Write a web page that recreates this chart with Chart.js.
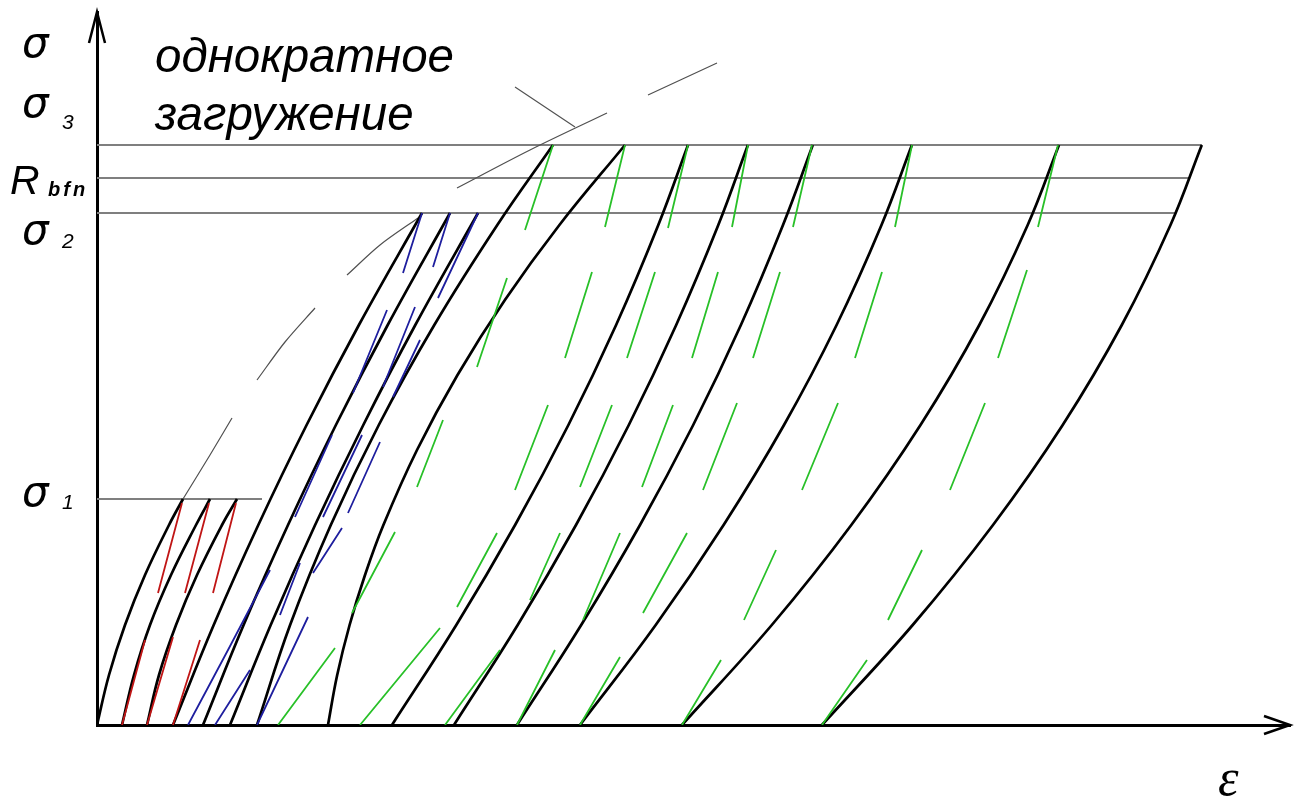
<!DOCTYPE html>
<html>
<head>
<meta charset="utf-8">
<script src="https://cdn.jsdelivr.net/npm/chart.js@4.4.1/dist/chart.umd.min.js"></script>
<style>
    body { margin: 0; background: #fff; }
    #wrap { position: relative; width: 1295px; height: 804px; }
    .lbl {
        position: absolute;
        font-family: "Liberation Sans", Arial, sans-serif;
        font-style: italic;
        line-height: 1;
        color: #000;
        white-space: nowrap;
    }
    .sig { font-family: "DejaVu Sans", sans-serif; font-size: 42px; }
</style>
</head>
<body>
<div id="wrap">
    <canvas id="chart" width="1295" height="804"></canvas>
    <div class="lbl sig" style="left:22px; top:22px;">σ</div>
    <div class="lbl sig" style="left:22px; top:82px;">σ</div>
    <div class="lbl" style="left:62px; top:111px; font-size:21px;">3</div>
    <div class="lbl" style="left:10px; top:160px; font-size:41px;">R</div>
    <div class="lbl" style="left:48px; top:179px; font-size:20px; font-weight:bold; letter-spacing:3px;">bfn</div>
    <div class="lbl sig" style="left:22px; top:209px;">σ</div>
    <div class="lbl" style="left:62px; top:230px; font-size:21px;">2</div>
    <div class="lbl sig" style="left:22px; top:471px;">σ</div>
    <div class="lbl" style="left:62px; top:491px; font-size:21px;">1</div>
    <div class="lbl" style="left:155px; top:32px; font-size:47.5px;">однократное</div>
    <div class="lbl" style="left:155px; top:90px; font-size:47.5px;">загружение</div>
    <div class="lbl" style="left:1218px; top:752px; font-size:52px; font-family:'Liberation Serif', serif;">ε</div>
</div>
<script>
// units: ε to the right, σ upwards (same arbitrary units on both axes)
const GAP = null;

// stress levels
const levelNames = ['σ1', 'σ2', 'Rbfn', 'σ3'];
const levelValues = [226, 512, 547, 580];
const levelEnds = [165, 1079, 1093, 1105];

// loading curves, cycles up to σ1
const load1 = [[0, 0], [12, 50], [28, 100], [48, 150], [72, 200], [86, 226]];
const load2 = [[25, 0], [37, 50], [53, 100], [74, 150], [99, 200], [113, 226]];
const load3 = [[50, 0], [62, 50], [79, 100], [100, 150], [125, 200], [140, 226]];
// cycles up to σ2
const load4 = [[76, 0], [116.7, 100], [161.3, 200], [209.6, 300], [261.9, 400], [325, 512]];
const load5 = [[106, 0], [146.6, 100], [191, 200], [238.9, 300], [290.7, 400], [353, 512]];
const load6 = [[133, 0], [173.7, 100], [218.1, 200], [266.3, 300], [318.3, 400], [381, 512]];
// cycles up to σ3
const load7 = [[160, 0], [193.1, 100], [233.8, 200], [281.8, 300], [337.3, 400], [400.3, 500], [456, 580]];
const load8 = [[231, 0], [240.2, 50], [252.6, 100], [268, 150], [286.4, 200], [320, 275], [360.5, 350], [407.9, 425], [462.4, 500], [528, 580]];
const load9 = [[295, 0], [359.3, 100], [418.1, 200], [471.4, 300], [519.1, 400], [561.3, 500], [591, 580]];
const load10 = [[357, 0], [420.7, 100], [479, 200], [531.8, 300], [579.2, 400], [621.3, 500], [650.9, 580]];
const load11 = [[420, 0], [484.2, 100], [543, 200], [596.2, 300], [643.9, 400], [686, 500], [715.8, 580]];
const load12 = [[483, 0], [558.7, 100], [626.6, 200], [687, 300], [739.6, 400], [784.5, 500], [814.9, 580]];
const load13 = [[585, 0], [674.8, 100], [754.3, 200], [823.5, 300], [882.3, 400], [930.7, 500], [962, 580]];
const load14 = [[725, 0], [815.7, 100], [896, 200], [965.7, 300], [1024.8, 400], [1073.5, 500], [1104.8, 580]];

// unloading from σ1 (red)
const unloadR1 = [[85, 222], [61, 132], GAP, [48, 85], [25, 0]];
const unloadR2 = [[112, 222], [88, 132], GAP, [76, 88], [50, 0]];
const unloadR3 = [[139, 222], [116, 132], GAP, [103, 85], [76, 0]];

// unloading from σ2 (blue)
const unloadB1 = [[325, 512], [306, 452], GAP, [290, 415], [256, 332], GAP, [235, 290], [198, 208], GAP, [173, 155], [131, 75], [91, 0]];
const unloadB2 = [[353, 512], [336, 458], GAP, [318, 418], [286, 338], GAP, [265, 290], [226, 208], GAP, [203, 162], [183, 110], GAP, [153, 55], [118, 0]];
const unloadB3 = [[381, 512], [341, 427], GAP, [323, 385], [296, 328], GAP, [283, 283], [251, 212], GAP, [245, 197], [216, 152], GAP, [211, 108], [160, 0]];

// unloading from σ3 (green)
const unloadG1 = [[456, 580], [428, 495], GAP, [410, 447], [380, 358], GAP, [346, 305], [320, 238], GAP, [298, 193], [255, 112], GAP, [238, 77], [181, 0]];
const unloadG2 = [[528, 580], [508, 498], GAP, [495, 453], [468, 367], GAP, [451, 320], [418, 235], GAP, [400, 192], [360, 118], GAP, [343, 97], [263, 0]];
const unloadG3 = [[591, 580], [571, 497], GAP, [558, 453], [530, 367], GAP, [515, 320], [483, 238], GAP, [463, 192], [433, 125], GAP, [403, 75], [348, 0]];
const unloadG4 = [[651, 580], [635, 498], GAP, [621, 453], [595, 367], GAP, [576, 320], [545, 238], GAP, [523, 192], [486, 105], GAP, [458, 75], [420, 0]];
const unloadG5 = [[715, 580], [696, 498], GAP, [683, 453], [656, 367], GAP, [640, 322], [606, 235], GAP, [590, 192], [546, 112], GAP, [523, 68], [483, 0]];
const unloadG6 = [[815, 580], [798, 498], GAP, [785, 453], [758, 367], GAP, [741, 322], [705, 235], GAP, [679, 175], [647, 105], GAP, [624, 65], [585, 0]];
const unloadG7 = [[961, 580], [941, 498], GAP, [930, 455], [901, 367], GAP, [888, 322], [853, 235], GAP, [825, 175], [791, 105], GAP, [770, 65], [725, 0]];

// single loading envelope ("однократное загружение") and its label leader
const envelope = [[86, 226], [113, 270], [135, 307], GAP, [160, 345], [188, 383], [218, 417], GAP, [250, 450], [283, 480], [321, 507], GAP, [360, 537], [433, 575], [510, 612], GAP, [551, 630], [620, 662]];
const leader = [[418, 638], [478, 598]];

const toPoints = arr => arr.map(p => p ? { x: p[0], y: p[1] } : { x: null, y: null });

function lineSet(points, color, width, tension, order) {
    return {
        data: toPoints(points),
        borderColor: color,
        borderWidth: width,
        pointRadius: 0,
        showLine: true,
        fill: false,
        tension: tension,
        spanGaps: false,
        order: order
    };
}

const datasets = [];

levelValues.forEach((v, i) => {
    const ds = lineSet([[0, v], [levelEnds[i], v]], '#7f7f7f', 1.8, 0, 5);
    ds.label = levelNames[i];
    datasets.push(ds);
});

datasets.push(lineSet(envelope, '#505050', 1.2, 0.3, 4));
datasets.push(lineSet(leader, '#505050', 1.2, 0, 4));

[load1, load2, load3, load4, load5, load6, load7, load8, load9, load10, load11, load12, load13, load14]
    .forEach(c => datasets.push(lineSet(c, '#000000', 2.7, 0.4, 3)));

[unloadR1, unloadR2, unloadR3].forEach(c => datasets.push(lineSet(c, '#c01515', 1.8, 0, 1)));
[unloadB1, unloadB2, unloadB3].forEach(c => datasets.push(lineSet(c, '#1e1e9e', 1.8, 0.3, 1)));
[unloadG1, unloadG2, unloadG3, unloadG4, unloadG5, unloadG6, unloadG7]
    .forEach(c => datasets.push(lineSet(c, '#28c028', 1.8, 0, 1)));

// arrow heads at the ends of both axes
const arrowHeads = {
    id: 'arrowHeads',
    afterDraw(chart) {
        const { ctx, scales: { x, y } } = chart;
        const x0 = x.getPixelForValue(0);
        const y0 = y.getPixelForValue(0);
        const xEnd = x.getPixelForValue(x.max);
        const yEnd = y.getPixelForValue(y.max);
        ctx.save();
        ctx.strokeStyle = '#000';
        ctx.lineWidth = 2.5;
        ctx.beginPath();
        ctx.moveTo(x0 - 8, yEnd + 31);
        ctx.lineTo(x0, yEnd);
        ctx.lineTo(x0 + 8, yEnd + 31);
        ctx.moveTo(xEnd - 26, y0 - 9);
        ctx.lineTo(xEnd, y0);
        ctx.lineTo(xEnd - 26, y0 + 9);
        ctx.stroke();
        ctx.restore();
    }
};

new Chart(document.getElementById('chart'), {
    type: 'scatter',
    data: { datasets },
    options: {
        responsive: false,
        animation: false,
        events: [],
        layout: { padding: { left: 97, right: 5, top: 12, bottom: 79 } },
        plugins: { legend: { display: false }, tooltip: { enabled: false } },
        scales: {
            x: {
                type: 'linear',
                min: 0,
                max: 1193,
                ticks: { display: false },
                grid: { display: false, drawTicks: false, tickLength: 0 },
                border: { display: true, color: '#000', width: 3 }
            },
            y: {
                type: 'linear',
                min: 0,
                max: 713,
                ticks: { display: false },
                grid: { display: false, drawTicks: false, tickLength: 0 },
                border: { display: true, color: '#000', width: 3 }
            }
        }
    },
    plugins: [arrowHeads]
});
</script>
</body>
</html>
